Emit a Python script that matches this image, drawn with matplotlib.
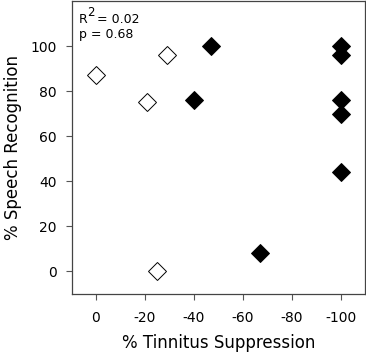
import matplotlib
matplotlib.use("Agg")
import matplotlib.pyplot as plt

# open diamonds
open_x = [0, -21, -29, -25]
open_y = [87, 75, 96, 0]
# filled diamonds
filled_x = [-47, -40, -67, -100, -100, -100, -100, -100]
filled_y = [100, 76, 8, 100, 96, 76, 70, 44]

xticks = [0, -20, -40, -60, -80, -100]
yticks = [0, 20, 40, 60, 80, 100]

plt.rcParams["font.family"] = "DejaVu Sans"
plt.rcParams["axes.unicode_minus"] = False

fig = plt.figure(figsize=(3.66, 3.57), dpi=100)
ax = fig.add_axes([71.5 / 366, 1 - 294 / 357, (365 - 71.5) / 366, 293 / 357])

ax.plot(open_x, open_y, "D", ms=9, mfc="white", mec="black", mew=0.7,
        linestyle="none")
ax.plot(filled_x, filled_y, "D", ms=9, mfc="black", mec="black", mew=0.7,
        linestyle="none")

ax.set_xlim(10, -110)
ax.set_ylim(-10, 120)
ax.set_xticks(xticks)
ax.set_yticks(yticks)
ax.tick_params(labelsize=10, length=4.5, width=0.8, color="#555555", pad=8)
ax.tick_params(axis="y", pad=6)
for s in ax.spines.values():
    s.set_color("#444444")
    s.set_linewidth(0.9)

ax.set_xlabel("% Tinnitus Suppression", fontsize=12, labelpad=6)
ax.set_ylabel("% Speech Recognition", fontsize=12, labelpad=6.5)

# stats annotation
fig.text(79 / 366, 1 - 23 / 357, "R", fontsize=9, va="baseline")
fig.text(87 / 366, 1 - 15.5 / 357, "2", fontsize=8.5, va="baseline")
fig.text(97 / 366, 1 - 23 / 357, "= 0.02", fontsize=9, va="baseline")
fig.text(79 / 366, 1 - 38 / 357, "p = 0.68", fontsize=9, va="baseline")

fig.savefig("out.png", dpi=100)
